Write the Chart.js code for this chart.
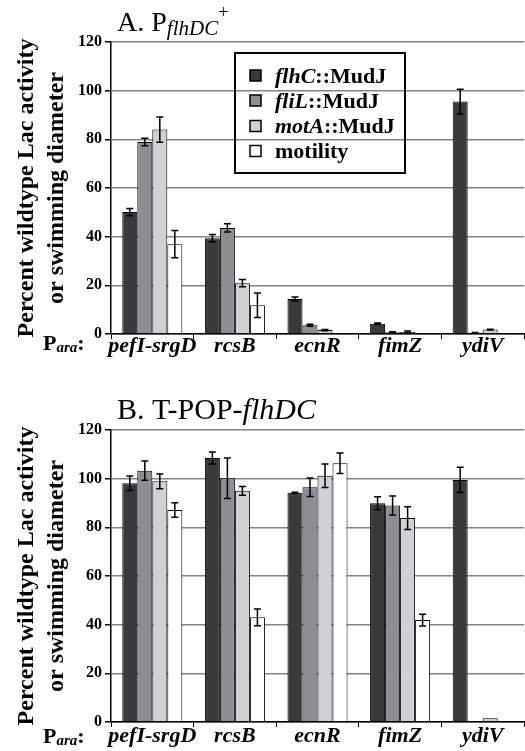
<!DOCTYPE html>
<html>
<head>
<meta charset="utf-8">
<script src="https://cdn.jsdelivr.net/npm/chart.js@4"></script>
<style>
  html, body { margin: 0; padding: 0; background: #fff; }
  canvas { display: block; }
</style>
</head>
<body>
<canvas id="panelA" width="525" height="375"></canvas>
<canvas id="panelB" width="525" height="376"></canvas>
<script>
const categories = ['pefI-srgD', 'rcsB', 'ecnR', 'fimZ', 'ydiV'];
const seriesGenes = ['flhC', 'fliL', 'motA', 'motility'];
const seriesColors = ['#3a3a3a', '#8d8e91', '#d0d1d3', '#ffffff'];
const yTicks = [0, 20, 40, 60, 80, 100, 120];

// panel A: PflhDC+
const aFlhC = [50.1, 39.4, 14.4, 4.2, 95.5];
const aFliL = [78.9, 43.6, 3.6, 0.7, 0.5];
const aMotA = [84.0, 20.9, 1.6, 0.8, 1.8];
const aMotility = [36.9, 11.8, 0, 0, 0];
const aFlhCErr = [1.5, 1.5, 0.8, 0.3, 5.1];
const aFliLErr = [1.5, 1.7, 0.4, 0.2, 0.1];
const aMotAErr = [5.2, 1.5, 0.3, 0.4, 0.2];
const aMotilityErr = [5.6, 5.0, 0, 0, 0];

// panel B: T-POP-flhDC
const bFlhC = [98.1, 108.5, 94.2, 89.9, 99.5];
const bFliL = [103.3, 100.2, 96.5, 89.0, 0.4];
const bMotA = [98.9, 95.0, 101.2, 83.8, 1.5];
const bMotility = [87.1, 43.0, 106.3, 41.9, 0];
const bFlhCErr = [3.0, 2.5, 0.2, 2.7, 5.2];
const bFliLErr = [4.0, 8.3, 3.8, 3.9, 0];
const bMotAErr = [3.0, 1.8, 4.8, 4.7, 0];
const bMotilityErr = [3.0, 3.4, 4.2, 2.4, 0];

const SERIF = "'Liberation Serif', 'DejaVu Serif', serif";

const errorBars = {
  id: 'errorBars',
  afterDatasetsDraw(chart) {
    const ctx = chart.ctx;
    const y = chart.scales.y;
    ctx.save();
    ctx.strokeStyle = '#000';
    ctx.lineWidth = 1.5;
    chart.data.datasets.forEach((ds, di) => {
      const meta = chart.getDatasetMeta(di);
      meta.data.forEach((bar, i) => {
        const e = ds.errors[i];
        if (!e) return;
        const v = ds.data[i];
        const top = y.getPixelForValue(v + e);
        const bot = y.getPixelForValue(Math.max(v - e, 0));
        ctx.beginPath();
        ctx.moveTo(bar.x, top); ctx.lineTo(bar.x, bot);
        ctx.moveTo(bar.x - 3.5, top); ctx.lineTo(bar.x + 3.5, top);
        ctx.moveTo(bar.x - 3.5, bot); ctx.lineTo(bar.x + 3.5, bot);
        ctx.stroke();
      });
    });
    ctx.restore();
  }
};

// draws a sequence of [text, font, dy] pieces left to right
function drawPieces(ctx, x, y, pieces) {
  pieces.forEach(([txt, font, dy]) => {
    ctx.font = font;
    ctx.fillText(txt, x, y + (dy || 0));
    x += ctx.measureText(txt).width;
  });
  return x;
}

const decorations = {
  id: 'decorations',
  afterDraw(chart, args, opts) {
    const ctx = chart.ctx;
    const area = chart.chartArea;
    ctx.save();
    ctx.fillStyle = '#000';
    ctx.textBaseline = 'alphabetic';
    ctx.textAlign = 'left';

    // panel title
    drawPieces(ctx, 117, opts.titleY, opts.title);

    // y axis title, two rotated lines
    const cy = (area.top + area.bottom) / 2;
    ctx.font = 'bold 24px ' + SERIF;
    ctx.textAlign = 'center';
    [['Percent wildtype Lac activity', 33], ['or swimming diameter', 63]].forEach(([t, bx]) => {
      ctx.save();
      ctx.translate(bx, cy);
      ctx.rotate(-Math.PI / 2);
      ctx.fillText(t, 0, 0);
      ctx.restore();
    });

    // "Para:" row label
    ctx.textAlign = 'left';
    drawPieces(ctx, 43, area.bottom + opts.labelDy, [
      ['P', 'bold 22px ' + SERIF],
      ['ara', 'italic bold 15px ' + SERIF, 2],
      [':', 'bold 22px ' + SERIF]
    ]);

    // legend box
    if (opts.legend) {
      ctx.lineWidth = 2;
      ctx.strokeStyle = '#000';
      ctx.strokeRect(235, 53, 170, 120);
      const rows = [75.5, 100.5, 126, 151];
      chart.data.datasets.forEach((ds, i) => {
        ctx.fillStyle = ds.backgroundColor;
        ctx.fillRect(250, rows[i] - 5.5, 11, 11);
        ctx.lineWidth = 1.5;
        ctx.strokeRect(250, rows[i] - 5.5, 11, 11);
        ctx.fillStyle = '#000';
        const gene = seriesGenes[i];
        if (gene === 'motility') {
          drawPieces(ctx, 275, rows[i] + 7, [[gene, 'bold 22px ' + SERIF]]);
        } else {
          drawPieces(ctx, 275, rows[i] + 7, [
            [gene, 'italic bold 22px ' + SERIF],
            ['::MudJ', 'bold 22px ' + SERIF]
          ]);
        }
      });
    }
    ctx.restore();
  }
};

function makePanel(id, values, errors, cfg) {
  new Chart(document.getElementById(id), {
    type: 'bar',
    data: {
      labels: categories,
      datasets: values.map((vals, i) => ({
        label: seriesGenes[i],
        data: vals,
        errors: errors[i],
        backgroundColor: seriesColors[i],
        borderColor: '#000',
        borderWidth: 1,
        categoryPercentage: 0.727,
        barPercentage: 1
      }))
    },
    options: {
      responsive: false,
      animation: false,
      devicePixelRatio: 1,
      layout: { padding: { top: cfg.top, right: 1, left: 0, bottom: 0 } },
      plugins: {
        legend: { display: false },
        tooltip: { enabled: false },
        decorations: cfg
      },
      scales: {
        x: {
          grid: { offset: true, drawOnChartArea: false, drawTicks: true, tickLength: 5, tickColor: '#000' },
          border: { color: '#000', width: 1.5 },
          ticks: {
            color: '#000', padding: cfg.tickPad, autoSkip: false, maxRotation: 0, minRotation: 0,
            font: { family: SERIF, size: 22, style: 'italic', weight: 'bold' }
          },
          afterFit: s => { s.height = cfg.xHeight; }
        },
        y: {
          min: 0,
          max: 120,
          afterBuildTicks: s => { s.ticks = yTicks.map(v => ({ value: v })); },
          grid: { color: '#858585', lineWidth: 1.5, tickColor: '#000', tickLength: 6 },
          border: { color: '#000', width: 1.5 },
          ticks: { color: '#000', padding: 3, font: { family: SERIF, size: 16, weight: 'bold' } },
          afterFit: s => { s.width = 111; }
        }
      }
    },
    plugins: [errorBars, decorations]
  });
}

makePanel('panelA',
  [aFlhC, aFliL, aMotA, aMotility],
  [aFlhCErr, aFliLErr, aMotAErr, aMotilityErr],
  {
    top: 42, xHeight: 41, tickPad: -6, labelDy: 16, legend: true, titleY: 31,
    title: [
      ['A. P', '28px ' + SERIF],
      ['flhDC', 'italic 21px ' + SERIF, 4],
      ['+', '18px ' + SERIF, -13]
    ]
  });

makePanel('panelB',
  [bFlhC, bFliL, bMotA, bMotility],
  [bFlhCErr, bFliLErr, bMotAErr, bMotilityErr],
  {
    top: 55, xHeight: 29, tickPad: -4, labelDy: 21, legend: false, titleY: 44,
    title: [
      ['B. T-POP-', '30px ' + SERIF],
      ['flhDC', 'italic 30px ' + SERIF]
    ]
  });
</script>
</body>
</html>
